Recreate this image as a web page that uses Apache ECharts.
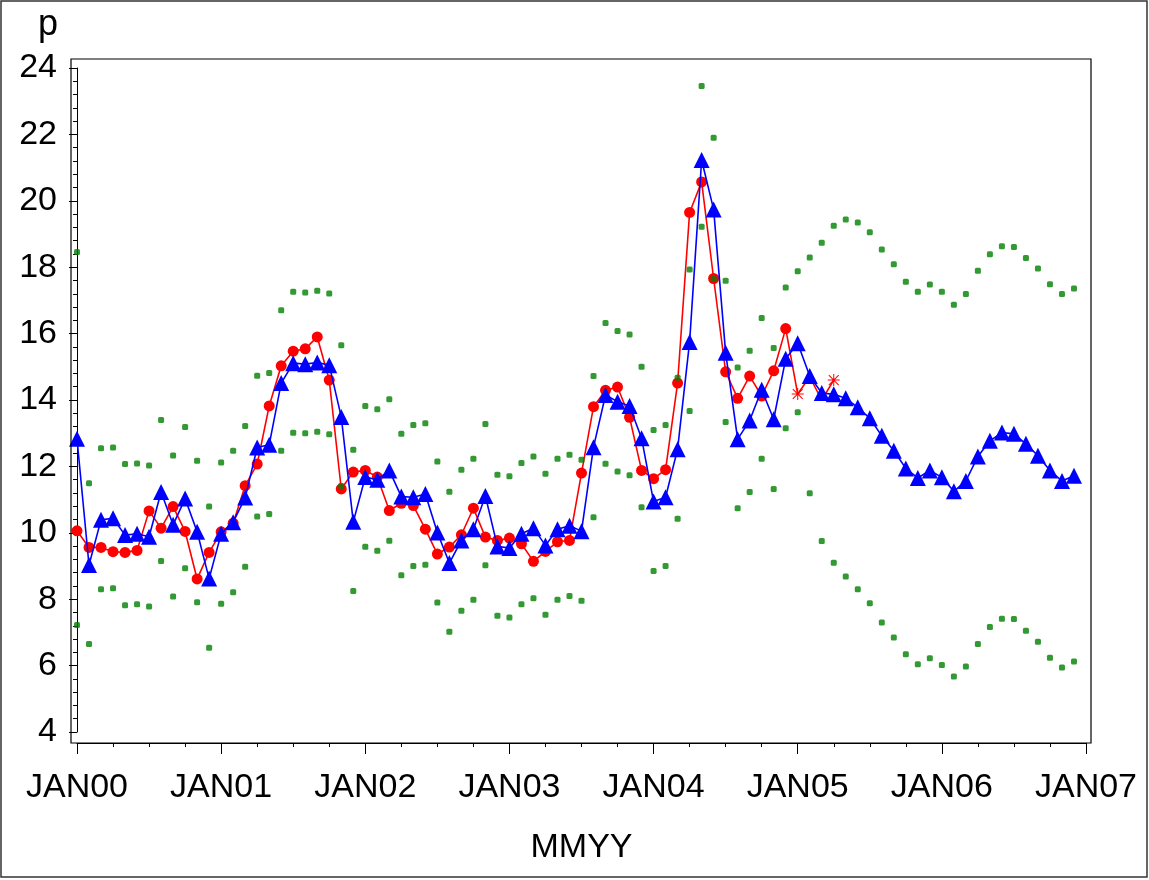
<!DOCTYPE html>
<html>
<head>
<meta charset="utf-8">
<title>p by MMYY</title>
<script src="https://cdn.jsdelivr.net/npm/echarts@6/dist/echarts.min.js"></script>
<style>
  html, body { margin: 0; padding: 0; background: #fff; }
  #chart { width: 1149px; height: 880px; }
</style>
</head>
<body>
<div id="chart"></div>
<script>
// Year tick labels on the month axis (one every 12 months)
const tickLabels = ['JAN00', 'JAN01', 'JAN02', 'JAN03', 'JAN04', 'JAN05', 'JAN06', 'JAN07'];

// Observed series p, months 0..63 (JAN00 .. APR05); from JAN05 on drawn as stars
const actual = [
  10.06, 9.56, 9.56, 9.43, 9.41, 9.47, 10.66, 10.14, 10.79, 10.04, 8.61, 9.41,
  10.03, 10.29, 11.42, 12.07, 13.82, 15.03, 15.47, 15.54, 15.90, 14.60, 11.32, 11.83,
  11.88, 11.68, 10.67, 10.89, 10.82, 10.11, 9.36, 9.57, 9.94, 10.74, 9.87, 9.77,
  9.84, 9.67, 9.14, 9.44, 9.73, 9.77, 11.80, 13.80, 14.29, 14.39, 13.48, 11.88,
  11.63, 11.90, 14.51, 19.65, 20.57, 17.66, 14.85, 14.05, 14.72, 14.12, 14.88, 16.15,
  14.18, 14.70, 14.00, 14.60
];
const holdoutStart = 60;
// held-out months whose marker sits under a forecast triangle
const hiddenMarks = [61, 62];

// One-step-ahead fit and forecast, months 0..83
const predicted = [
  12.83, 9.03, 10.39, 10.44, 9.93, 9.97, 9.88, 11.23, 10.24, 11.03, 10.03, 8.62,
  9.97, 10.32, 11.06, 12.57, 12.65, 14.51, 15.11, 15.08, 15.13, 15.05, 13.49, 10.33,
  11.68, 11.60, 11.88, 11.09, 11.07, 11.17, 10.01, 9.09, 9.77, 10.11, 11.11, 9.59,
  9.54, 9.97, 10.14, 9.62, 10.11, 10.21, 10.05, 12.58, 14.15, 13.95, 13.82, 12.85,
  10.94, 11.07, 12.52, 15.75, 21.23, 19.74, 15.42, 12.82, 13.38, 14.31, 13.42, 15.24,
  15.71, 14.72, 14.21, 14.17, 14.05, 13.78, 13.45, 12.92, 12.47, 11.94, 11.65, 11.88,
  11.67, 11.25, 11.56, 12.30, 12.77, 13.02, 12.98, 12.68, 12.32, 11.88, 11.56, 11.72
];

// Upper confidence limit, months 0..83
const upper = [
  18.46, 11.49, 12.55, 12.57, 12.07, 12.09, 12.03, 13.40, 12.33, 13.19, 12.17, 10.79,
  12.12, 12.47, 13.22, 14.73, 14.81, 16.70, 17.26, 17.24, 17.29, 17.21, 15.65, 12.50,
  13.82, 13.72, 14.02, 12.98, 13.25, 13.30, 12.15, 11.24, 11.90, 12.23, 13.28, 11.75,
  11.70, 12.10, 12.30, 11.78, 12.23, 12.35, 12.20, 14.72, 16.32, 16.08, 15.97, 15.00,
  13.10, 13.25, 14.67, 17.93, 23.46, 21.90, 17.59, 14.98, 15.48, 16.47, 15.57, 17.39,
  17.88, 18.29, 18.74, 19.25, 19.44, 19.35, 19.05, 18.53, 18.09, 17.56, 17.26, 17.48,
  17.26, 16.87, 17.19, 17.89, 18.39, 18.63, 18.61, 18.28, 17.96, 17.49, 17.19, 17.36
];

// Lower confidence limit, months 0..83
const lower = [
  7.22, 6.65, 8.30, 8.33, 7.82, 7.85, 7.78, 9.15, 8.08, 8.93, 7.91, 6.54,
  7.86, 8.21, 8.98, 10.49, 10.57, 12.47, 13.01, 13.00, 13.04, 12.97, 11.41, 8.25,
  9.58, 9.46, 9.76, 8.72, 9.00, 9.04, 7.90, 7.02, 7.65, 7.98, 9.02, 7.50,
  7.45, 7.85, 8.03, 7.53, 7.98, 8.10, 7.95, 10.47, 12.08, 11.85, 11.73, 10.77,
  8.85, 9.00, 10.42, 13.67, 19.22, 17.65, 13.34, 10.74, 11.23, 12.23, 11.32, 13.15,
  13.63, 11.19, 9.75, 9.10, 8.68, 8.30, 7.88, 7.30, 6.85, 6.34, 6.04, 6.22,
  6.02, 5.67, 5.97, 6.65, 7.16, 7.41, 7.40, 7.05, 6.72, 6.24, 5.94, 6.12
];

// Eight-armed asterisk used for the held-out observations
const STAR = 'path://M11 0L13 0L13 24L11 24Z M0 11L24 11L24 13L0 13Z ' +
  'M1.4 2.8L2.8 1.4L22.6 21.2L21.2 22.6Z M21.2 1.4L22.6 2.8L2.8 22.6L1.4 21.2Z';

const FONT = '"Liberation Sans", Arial, Helvetica, sans-serif';

const actualData = actual.map((v, i) => {
  if (i < holdoutStart) return [i, v];
  if (hiddenMarks.includes(i)) return { value: [i, v], symbol: 'none' };
  return { value: [i, v], symbol: STAR, symbolSize: 12 };
});
const predictedData = predicted.map((v, i) => [i, v]);
const upperData = upper.map((v, i) => [i, v]);
const lowerData = lower.map((v, i) => [i, v]);

const tickLine = { color: '#000', width: 1 };

const chart = echarts.init(document.getElementById('chart'), null, { renderer: 'canvas' });

chart.setOption({
  animation: false,
  backgroundColor: '#ffffff',
  grid: { left: 77, right: 63, top: 68, bottom: 148, containLabel: false },
  xAxis: [
    {
      // main month axis: yearly ticks and labels
      type: 'value',
      min: 0,
      max: 84,
      interval: 12,
      offset: 11,
      name: 'MMYY',
      nameLocation: 'middle',
      nameGap: 88,
      nameTextStyle: { fontFamily: FONT, fontSize: 34, color: '#000' },
      axisLine: { show: true, lineStyle: tickLine },
      axisTick: { show: true, length: 11, lineStyle: tickLine },
      splitLine: { show: false },
      axisLabel: {
        margin: 28,
        fontFamily: FONT,
        fontSize: 34,
        color: '#000',
        formatter: v => tickLabels[Math.round(v / 12)] || ''
      }
    },
    {
      // quarterly short ticks
      type: 'value',
      position: 'bottom',
      min: 0,
      max: 84,
      interval: 3,
      offset: 11,
      axisLine: { show: false },
      axisTick: { show: true, length: 4, lineStyle: tickLine },
      axisLabel: { show: false },
      splitLine: { show: false }
    }
  ],
  yAxis: [
    {
      type: 'value',
      min: 4,
      max: 24,
      interval: 2,
      offset: 6,
      axisLine: { show: true, lineStyle: tickLine },
      axisTick: { show: true, length: 8, lineStyle: tickLine },
      splitLine: { show: false },
      axisLabel: {
        margin: 14,
        fontFamily: FONT,
        fontSize: 34,
        color: '#000'
      }
    },
    {
      // short ticks every 0.4
      type: 'value',
      position: 'left',
      min: 4,
      max: 24,
      interval: 0.4,
      offset: 6,
      axisLine: { show: false },
      axisTick: { show: true, length: 4, lineStyle: tickLine },
      axisLabel: { show: false },
      splitLine: { show: false }
    }
  ],
  graphic: [
    // outer border of the page
    { type: 'rect', shape: { x: 1, y: 1, width: 1146, height: 876 },
      style: { fill: 'none', stroke: '#333', lineWidth: 1.5 }, silent: true, z: 0 },
    // plot frame
    { type: 'rect', shape: { x: 71, y: 59, width: 1020, height: 684 },
      style: { fill: 'none', stroke: '#000', lineWidth: 1.2 }, silent: true, z: 10 },
    // vertical axis title
    { type: 'text', x: 48, y: 7, silent: true, z: 10,
      style: { text: 'p', fontFamily: FONT, fontSize: 36, fill: '#000',
               align: 'center', verticalAlign: 'top' } }
  ],
  series: [
    {
      name: 'p',
      type: 'line',
      data: actualData,
      symbol: 'circle',
      symbolSize: 11,
      showAllSymbol: true,
      itemStyle: { color: '#ff0000' },
      lineStyle: { color: '#ff0000', width: 1.6 },
      emphasis: { disabled: true },
      z: 2
    },
    {
      name: 'forecast',
      type: 'line',
      data: predictedData,
      symbol: 'triangle',
      symbolSize: 16,
      showAllSymbol: true,
      clip: false,
      itemStyle: { color: '#0000ff' },
      lineStyle: { color: '#0000ff', width: 1.6 },
      emphasis: { disabled: true },
      z: 3,
      markLine: {
        silent: true,
        symbol: 'none',
        label: { show: false },
        lineStyle: { color: '#333', width: 1.5, type: 'solid' },
        data: [[{ coord: [60, 3.67] }, { coord: [60, 24.27] }]]
      }
    },
    {
      name: 'upper',
      type: 'scatter',
      data: upperData,
      symbol: 'roundRect',
      symbolSize: 6,
      itemStyle: { color: '#008000' },
      emphasis: { disabled: true },
      z: 4
    },
    {
      name: 'lower',
      type: 'scatter',
      data: lowerData,
      symbol: 'roundRect',
      symbolSize: 6,
      itemStyle: { color: '#008000' },
      emphasis: { disabled: true },
      z: 4
    }
  ]
});
</script>
</body>
</html>
